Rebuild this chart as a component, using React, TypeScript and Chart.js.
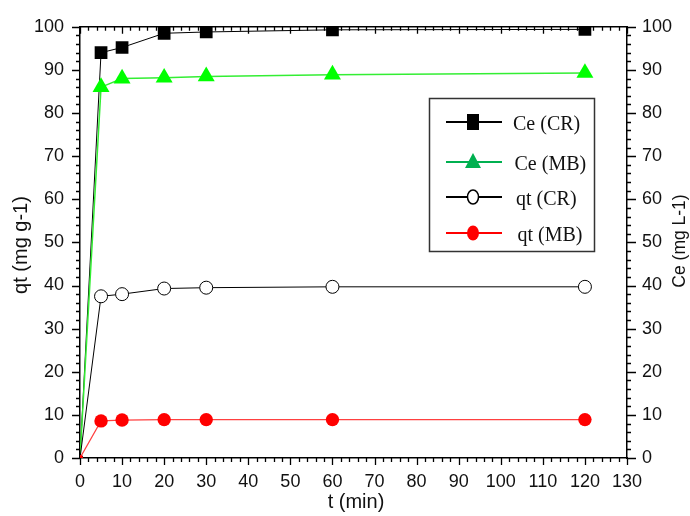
import React, { useEffect, useRef } from 'react';
import { Chart, registerables } from 'chart.js';

Chart.register(...registerables);

const times = [0, 5, 10, 20, 30, 60, 120];
const ceCR = [0, 94.0, 95.2, 98.5, 98.8, 99.3, 99.4];
const ceMB = [0, 86.0, 88.0, 88.2, 88.5, 88.9, 89.3];
const qtCR = [0, 37.5, 38.0, 39.3, 39.5, 39.7, 39.7];
const qtMB = [0, 8.6, 8.8, 8.9, 8.9, 8.9, 8.9];
const seriesNames = ['Ce (CR)', 'Ce (MB)', 'qt (CR)', 'qt (MB)'];
const xTitle = 't (min)';
const yTitle = 'qt (mg g-1)';
const y2Title = 'Ce (mg L-1)';

const SANS = '"Liberation Sans", Arial, sans-serif';
const SERIF = '"Liberation Serif", "Times New Roman", serif';

const tickPlugin = {
  id: 'minorTicks',
  afterDraw(chart: any) {
    const ctx = chart.ctx;
    const a = chart.chartArea;
    const sx = chart.scales.x;
    const sy = chart.scales.y;
    ctx.save();
    ctx.strokeStyle = '#000';
    ctx.lineWidth = 1.3;
    ctx.beginPath();
    for (let v = 0; v <= 130; v += 2) {
      const px = Math.round(sx.getPixelForValue(v)) + 0.5;
      const major = v % 10 === 0;
      ctx.moveTo(px, a.bottom);
      ctx.lineTo(px, a.bottom + (major ? 7 : 4));
      ctx.moveTo(px, a.top);
      ctx.lineTo(px, a.top + (major ? 7 : 4));
    }
    for (let v = 0; v <= 100; v += 2) {
      const py = Math.round(sy.getPixelForValue(v)) + 0.5;
      const major = v % 10 === 0;
      ctx.moveTo(a.left, py);
      ctx.lineTo(a.left - (major ? 8 : 4), py);
      ctx.moveTo(a.right, py);
      ctx.lineTo(a.right + (major ? 9 : 4), py);
    }
    ctx.stroke();
    ctx.restore();
  },
};

const titlePlugin = {
  id: 'axisTitles',
  afterDraw(chart: any) {
    const ctx = chart.ctx;
    ctx.save();
    ctx.fillStyle = '#111';
    ctx.textAlign = 'center';
    ctx.textBaseline = 'middle';
    ctx.font = `20px ${SANS}`;
    ctx.fillText(xTitle, 356, 502);
    ctx.save();
    ctx.translate(21, 245);
    ctx.rotate(-Math.PI / 2);
    ctx.fillText(yTitle, 0, 0);
    ctx.restore();
    ctx.font = `17.5px ${SANS}`;
    ctx.save();
    ctx.translate(680, 241);
    ctx.rotate(-Math.PI / 2);
    ctx.fillText(y2Title, 0, 0);
    ctx.restore();
    ctx.restore();
  },
};

const legendPlugin = {
  id: 'boxLegend',
  afterDraw(chart: any) {
    const ctx = chart.ctx;
    ctx.save();
    ctx.fillStyle = '#fff';
    ctx.fillRect(429, 98, 165, 153);
    ctx.strokeStyle = '#333';
    ctx.lineWidth = 1.5;
    ctx.strokeRect(429.5, 98.5, 165, 153);
    const rows = [122, 162, 197, 233];
    const lineCols = ['#000', '#00b050', '#000', '#ff0000'];
    rows.forEach((y, i) => {
      ctx.strokeStyle = lineCols[i];
      ctx.lineWidth = 2;
      ctx.beginPath();
      ctx.moveTo(446, y);
      ctx.lineTo(502, y);
      ctx.stroke();
      const cx = 473;
      if (i === 0) {
        ctx.fillStyle = '#000';
        ctx.fillRect(cx - 6, y - 8, 12, 16);
      } else if (i === 1) {
        ctx.fillStyle = '#00b050';
        ctx.beginPath();
        ctx.moveTo(cx, y - 9);
        ctx.lineTo(cx + 8, y + 6);
        ctx.lineTo(cx - 8, y + 6);
        ctx.closePath();
        ctx.fill();
      } else if (i === 2) {
        ctx.fillStyle = '#fff';
        ctx.strokeStyle = '#000';
        ctx.lineWidth = 1.5;
        ctx.beginPath();
        ctx.ellipse(cx, y, 5.5, 7, 0, 0, Math.PI * 2);
        ctx.fill();
        ctx.stroke();
      } else {
        ctx.fillStyle = '#ff0000';
        ctx.beginPath();
        ctx.ellipse(cx, y, 6, 7.5, 0, 0, Math.PI * 2);
        ctx.fill();
      }
      ctx.fillStyle = '#111';
      ctx.font = `20px ${SERIF}`;
      ctx.textAlign = 'left';
      ctx.textBaseline = 'middle';
      ctx.fillText(seriesNames[i], 513 + i * 1.5, y + 3);
    });
    ctx.restore();
  },
};

export default function App() {
  const ref = useRef<HTMLCanvasElement | null>(null);
  useEffect(() => {
    if (!ref.current) return;
    const r0 = (big: number) => (c: any) => (c.dataIndex === 0 ? 3 : big);
    const tickFont = { family: SANS, size: 18 };
    const chart = new Chart(ref.current, {
      type: 'line',
      data: {
        datasets: [
          {
            label: seriesNames[3],
            data: times.map((t, i) => ({ x: t, y: qtMB[i] })),
            yAxisID: 'y',
            borderColor: '#ff4040',
            borderWidth: 1.2,
            backgroundColor: '#ff0000',
            pointBackgroundColor: '#ff0000',
            pointBorderWidth: 0,
            pointStyle: 'circle',
            pointRadius: r0(6.7),
          },
          {
            label: seriesNames[2],
            data: times.map((t, i) => ({ x: t, y: qtCR[i] })),
            yAxisID: 'y',
            borderColor: '#000',
            borderWidth: 1,
            pointBackgroundColor: '#fff',
            pointBorderColor: '#000',
            pointBorderWidth: 1,
            pointStyle: 'circle',
            pointRadius: r0(6.5),
          },
          {
            label: seriesNames[1],
            data: times.map((t, i) => ({ x: t, y: ceMB[i] })),
            yAxisID: 'y2',
            borderColor: '#33ee33',
            borderWidth: 1.5,
            pointBackgroundColor: '#00ff00',
            pointBorderWidth: 0,
            pointStyle: 'triangle',
            pointRadius: r0(9.8),
          },
          {
            label: seriesNames[0],
            data: times.map((t, i) => ({ x: t, y: ceCR[i] })),
            yAxisID: 'y2',
            borderColor: '#000',
            borderWidth: 1,
            pointBackgroundColor: '#000',
            pointBorderWidth: 0,
            pointStyle: 'rect',
            pointRadius: r0(9),
          },
        ],
      },
      options: {
        animation: false,
        responsive: false,
        layout: { padding: 0 },
        plugins: { legend: { display: false }, tooltip: { enabled: false } },
        scales: {
          x: {
            type: 'linear',
            position: 'bottom',
            min: 0,
            max: 130,
            ticks: { stepSize: 10, font: tickFont, color: '#111', padding: 13, maxRotation: 0 },
            grid: { display: false, drawTicks: false },
            border: { display: true, color: '#000', width: 1.5 },
            afterFit: (s: any) => { s.height = 58; },
          },
          x2: {
            type: 'linear',
            position: 'top',
            min: 0,
            max: 130,
            ticks: { display: false },
            grid: { display: false, drawTicks: false },
            border: { display: true, color: '#000', width: 1.5 },
            afterFit: (s: any) => { s.height = 22; },
          },
          y: {
            type: 'linear',
            position: 'left',
            min: 0,
            max: 100,
            ticks: { stepSize: 10, font: tickFont, color: '#111', padding: 16 },
            grid: { display: false, drawTicks: false },
            border: { display: true, color: '#000', width: 1.5 },
            afterFit: (s: any) => { s.width = 80; },
          },
          y2: {
            type: 'linear',
            position: 'right',
            min: 0,
            max: 100,
            ticks: { stepSize: 10, font: tickFont, color: '#111', padding: 15 },
            grid: { display: false, drawTicks: false },
            border: { display: true, color: '#000', width: 1.5 },
            afterFit: (s: any) => { s.width = 63; },
          },
        },
      },
      plugins: [tickPlugin, legendPlugin, titlePlugin],
    } as any);
    return () => chart.destroy();
  }, []);
  return (
    <div style={{ position: 'absolute', left: 0, top: 0, width: 690, height: 516, background: '#fff' }}>
      <canvas ref={ref} width={690} height={516} />
    </div>
  );
}
